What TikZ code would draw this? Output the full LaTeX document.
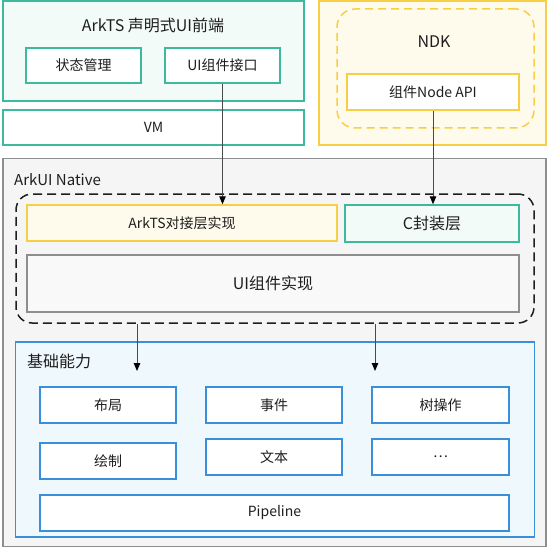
\documentclass[tikz,border=0pt]{standalone}
\usepackage{fontspec}
\setmainfont{Noto Sans CJK SC}
\usetikzlibrary{arrows.meta}
\definecolor{gborder}{HTML}{3DB99B}
\definecolor{gfill}{HTML}{F2FBF8}
\definecolor{yborder}{HTML}{F7CF45}
\definecolor{yfill}{HTML}{FFFBEC}
\definecolor{bborder}{HTML}{3A8FDB}
\definecolor{bfill}{HTML}{EEF8FD}
\definecolor{kborder}{HTML}{8E8E8E}
\definecolor{kfill}{HTML}{F5F5F5}
\definecolor{txt}{HTML}{1E1E1E}
\definecolor{arrcol}{HTML}{4A4A4A}
\tikzset{
  box/.style={draw, line width=1.5pt, inner sep=0pt, text=txt, font=\fontsize{14}{16}\selectfont},
  greenbox/.style={box, draw=gborder, fill=white},
  bluebox/.style={box, draw=bborder, fill=white},
  title/.style={text=txt, inner sep=0pt, font=\fontsize{16}{18}\selectfont},
  arr/.style={draw=arrcol, line width=1pt, -{Stealth[length=8pt,width=6.5pt,inset=0pt,color=black]}},
}
\begin{document}
\begin{tikzpicture}[x=1pt,y=-1pt]
\useasboundingbox (0,0) rectangle (547,548);
% ArkTS front end
\node[box, draw=gborder, fill=gfill, minimum width=301, minimum height=100] (arkts) at (153.5,51) {};
\node[title] (arktstitle) at (153,25) {ArkTS 声明式UI前端};
\node[greenbox, minimum width=115, minimum height=35] (state) at (83.5,65.5) {状态管理};
\node[greenbox, minimum width=115, minimum height=35] (uiif) at (222.5,65.5) {UI组件接口};
\node[greenbox, minimum width=301, minimum height=35] (vm) at (153.5,127.5) {VM};
% NDK
\node[box, draw=yborder, fill=yfill, minimum width=227, minimum height=144] (ndk) at (432.5,73) {};
\node[draw=yborder, line width=1.5pt, dash pattern=on 8pt off 5pt, rounded corners=18pt, minimum width=197, minimum height=119, inner sep=0pt] (ndkdash) at (435.5,68.5) {};
\node[title] (ndktitle) at (434,42) {NDK};
\node[box, draw=yborder, fill=white, minimum width=172, minimum height=36] (nodeapi) at (433,92) {组件Node API};
% ArkUI Native
\node[box, draw=kborder, fill=kfill, minimum width=543, minimum height=388] (arkui) at (274.5,352.5) {};
\node[title, anchor=west, font=\fontsize{15}{18}\selectfont] (arkuititle) at (14,180) {ArkUI Native};
\node[draw=txt, line width=1.5pt, dash pattern=on 9pt off 5pt, rounded corners=16pt, minimum width=518, minimum height=129, inner sep=0pt] (native) at (275,258.5) {};
\node[box, draw=yborder, fill=yfill, minimum width=310, minimum height=36] (adapter) at (182,223) {ArkTS对接层实现};
\node[box, draw=gborder, fill=gfill, minimum width=174, minimum height=37, font=\fontsize{16}{18}\selectfont] (cwrap) at (432,223.5) {C封装层};
\node[box, draw=kborder, fill=kfill!60!white, minimum width=492, minimum height=57, font=\fontsize{16}{18}\selectfont] (uiimpl) at (273,283.5) {UI组件实现};
% Basic capabilities
\node[box, draw=bborder, fill=bfill, minimum width=519, minimum height=195] (base) at (275,439.5) {};
\node[title, anchor=west] (basetitle) at (27,361) {基础能力};
\node[bluebox, minimum width=136, minimum height=36] (layout) at (108,405) {布局};
\node[bluebox, minimum width=136, minimum height=36] (event) at (274,405) {事件};
\node[bluebox, minimum width=137, minimum height=36] (tree) at (440.5,405) {树操作};
\node[bluebox, minimum width=136, minimum height=36] (draw) at (108,461) {绘制};
\node[bluebox, minimum width=136, minimum height=36] (text) at (274,457) {文本};
\node[bluebox, minimum width=137, minimum height=36] (more) at (440.5,457) {\dots};
\node[bluebox, minimum width=469, minimum height=36] (pipe) at (274.5,513) {Pipeline};
% connectors
\draw[arr] (uiif.south) -- (uiif.south |- adapter.north);
\draw[arr] (nodeapi.south) -- (nodeapi.south |- cwrap.north);
\coordinate (t1) at (137,371);
\coordinate (t2) at (375,371);
\draw[arr] (native.south -| t1) -- (t1);
\draw[arr] (native.south -| t2) -- (t2);
\end{tikzpicture}
\end{document}
